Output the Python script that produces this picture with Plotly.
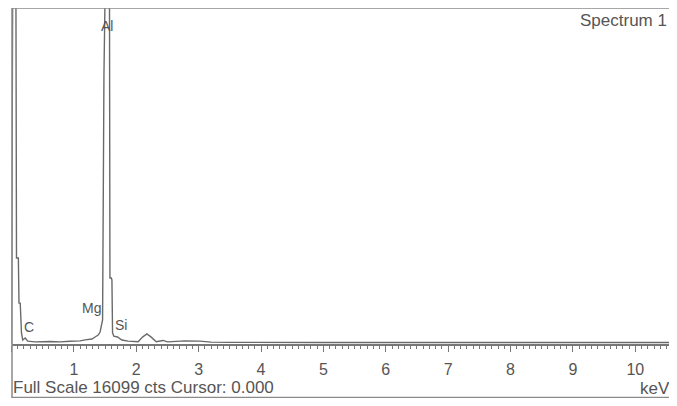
import plotly.graph_objects as go

# The page shows the figure inside an 8px margin on every side.
OFF = 8
W, H = 677 - 2 * OFF, 406 - 2 * OFF

# Spectrum (keV, counts); peaks above full scale are clipped
energy_kev = [0.00, 0.02, 0.07, 0.08, 0.11, 0.12, 0.14, 0.16, 0.18, 0.22, 0.26, 0.38,
              0.62, 0.78, 0.94, 1.10, 1.18, 1.29, 1.34, 1.39, 1.42, 1.445, 1.46, 1.482,
              1.506, 1.57, 1.578, 1.60, 1.61, 1.62, 1.64, 1.70, 1.77, 1.87, 2.03, 2.10,
              2.17, 2.24, 2.32, 2.43, 2.50, 2.78, 2.90, 3.02, 3.20, 3.50, 5.00, 7.00,
              9.00, 10.54]
counts = [0, 18000, 18000, 4120, 4120, 1960, 1960, 530, 190, 290, 140, 100,
          120, 100, 130, 150, 200, 240, 335, 430, 575, 910, 1150, 12900,
          18000, 18000, 3160, 3160, 3070, 530, 380, 335, 190, 140, 110, 330,
          480, 330, 110, 170, 100, 150, 160, 140, 90, 80, 70, 70,
          70, 70]

full_scale = 16099
x_max = 10.54
major_ticks = list(range(0, 11))
element_labels = ["C", "Mg", "Al", "Si"]
element_pos_px = [(29, 327), (91, 308), (107, 26), (121, 325)]

# pixel geometry of the plot area (window pixels)
px_left, px_right = 11.5, 669
py_top, py_bottom = 8, 344

def px(x):
    return (x - OFF) / W

def py(y):
    return 1 - (y - OFF) / H

fig = go.Figure()
fig.add_trace(go.Scatter(
    x=energy_kev, y=counts, mode="lines",
    line=dict(color="#6a6a6a", width=1.4),
    hoverinfo="skip", showlegend=False,
))

gray = "#777777"
text_gray = "#555555"
font_family = "Liberation Sans, Arial, sans-serif"

fig.update_layout(
    width=W, height=H,
    margin=dict(l=0, r=0, t=0, b=0),
    paper_bgcolor="white", plot_bgcolor="white",
    xaxis=dict(
        domain=[px(px_left), px(px_right)],
        range=[0, x_max],
        tickvals=major_ticks,
        ticks="outside", ticklen=6, tickwidth=1.3, tickcolor=gray,
        minor=dict(dtick=0.1, ticks="outside", ticklen=3, tickwidth=1, tickcolor=gray),
        showline=True, linecolor=gray, linewidth=1.5,
        showgrid=False, zeroline=False,
        tickfont=dict(family=font_family, size=16, color=text_gray),
        ticklabelstandoff=4,
        fixedrange=True,
    ),
    yaxis=dict(
        domain=[py(py_bottom), py(py_top)],
        range=[0, full_scale],
        visible=False, showgrid=False, zeroline=False,
        fixedrange=True,
    ),
    showlegend=False,
)

# outer frame (bottom edge at the lower limit of the visible page)
frame_color = "#8a8a8a"
fig.add_shape(type="line", xref="paper", yref="paper",
              x0=px(12), x1=px(12), y0=py(8), y1=py(398),
              line=dict(color=frame_color, width=1.5))
fig.add_shape(type="line", xref="paper", yref="paper",
              x0=px(12), x1=px(669), y0=py(8), y1=py(8),
              line=dict(color=frame_color, width=1.5))
fig.add_shape(type="line", xref="paper", yref="paper",
              x0=px(12), x1=px(669), y0=py(397.5), y1=py(397.5),
              line=dict(color=frame_color, width=1.5))

for lab, (lx, ly) in zip(element_labels, element_pos_px):
    fig.add_annotation(x=px(lx), y=py(ly), xref="paper", yref="paper",
                       text=lab, showarrow=False, xanchor="center", yanchor="middle",
                       font=dict(family=font_family, size=14, color=text_gray))

fig.add_annotation(x=px(669), y=py(21), xref="paper", yref="paper",
                   text="Spectrum 1", showarrow=False, xanchor="right", yanchor="middle",
                   font=dict(family=font_family, size=17, color=text_gray))
fig.add_annotation(x=px(11), y=py(387), xref="paper", yref="paper",
                   text=f"Full Scale {full_scale} cts Cursor: 0.000", showarrow=False,
                   xanchor="left", yanchor="middle",
                   font=dict(family=font_family, size=17, color=text_gray))
fig.add_annotation(x=px(672), y=py(388), xref="paper", yref="paper",
                   text="keV", showarrow=False, xanchor="right", yanchor="middle",
                   font=dict(family=font_family, size=17, color=text_gray))

fig.write_html("out.html")
